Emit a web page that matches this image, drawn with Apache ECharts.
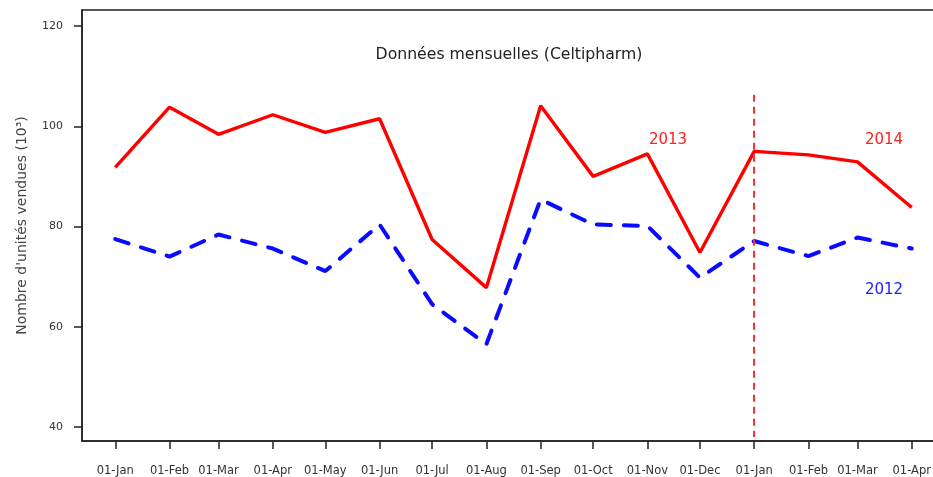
<!DOCTYPE html>
<html>
<head>
<meta charset="utf-8">
<title>Données mensuelles (Celtipharm)</title>
<script src="https://cdn.jsdelivr.net/npm/echarts@6/dist/echarts.min.js"></script>
<style>
  html, body { margin: 0; padding: 0; background: #fff; overflow: hidden; }
  /* un peu plus large que la fenêtre : le cadre est coupé à droite comme sur l'original */
  #chart { width: 942px; height: 477px; }
</style>
</head>
<body>
<div id="chart"></div>
<script>
// 1er de chaque mois, janvier 2013 -> avril 2014
const months = [
  "2013-01-01", "2013-02-01", "2013-03-01", "2013-04-01", "2013-05-01", "2013-06-01",
  "2013-07-01", "2013-08-01", "2013-09-01", "2013-10-01", "2013-11-01", "2013-12-01",
  "2014-01-01", "2014-02-01", "2014-03-01", "2014-04-01"
];
const tickLabels = [
  "01-Jan", "01-Feb", "01-Mar", "01-Apr", "01-May", "01-Jun", "01-Jul", "01-Aug",
  "01-Sep", "01-Oct", "01-Nov", "01-Dec", "01-Jan", "01-Feb", "01-Mar", "01-Apr"
];
// unités vendues (milliers)
const ventesRouge = [91.8, 103.8, 98.4, 102.3, 98.8, 101.5, 77.4, 67.8, 104.1, 90.0, 94.5, 74.8, 95.0, 94.3, 92.9, 83.8];
const ventesBleu = [77.5, 74.0, 78.4, 75.6, 71.1, 80.4, 64.5, 56.5, 85.4, 80.4, 80.1, 69.8, 77.1, 74.1, 77.8, 75.6];
const yTicks = [40, 60, 80, 100, 120];
const yearMarker = "2014-01-01";
const yearMarkerRange = [38, 106.3];

// jours depuis le 1er janvier 2013 (axe en jours pour garder l'espacement réel des mois)
const DAY = 86400000;
const toDay = s => {
  const [y, m, d] = s.split("-").map(Number);
  return Math.round((Date.UTC(y, m - 1, d) - Date.UTC(2013, 0, 1)) / DAY);
};
const monthDays = months.map(toDay);
const markerDay = toDay(yearMarker);

const font = "DejaVu Sans";
const chart = echarts.init(document.getElementById("chart"));

const option = {
  animation: false,
  backgroundColor: "#fff",
  grid: {
    left: 82,
    top: 10,
    right: 4,
    bottom: 35,
    show: true,
    borderColor: "#222",
    borderWidth: 1.5
  },
  xAxis: {
    type: "value",
    min: toDay("2012-12-13"),
    max: toDay("2014-04-16"),
    splitLine: { show: false },
    axisLine: { onZero: false, lineStyle: { color: "#222", width: 1.5 } },
    axisTick: {
      customValues: monthDays,
      length: 8,
      lineStyle: { color: "#222", width: 1.5 }
    },
    axisLabel: {
      customValues: monthDays,
      margin: 24,
      fontFamily: font,
      fontSize: 11.5,
      color: "#333",
      formatter: v => tickLabels[monthDays.indexOf(v)] || ""
    }
  },
  yAxis: {
    type: "value",
    min: 37.2,
    max: 123.2,
    name: "Nombre d'unités vendues (10³)",
    nameLocation: "middle",
    nameRotate: 90,
    nameGap: 53,
    nameTextStyle: { fontFamily: font, fontSize: 14, color: "#444" },
    splitLine: { show: false },
    axisLine: { show: true, onZero: false, lineStyle: { color: "#222", width: 1.5 } },
    axisTick: {
      show: true,
      customValues: yTicks,
      length: 8,
      lineStyle: { color: "#222", width: 1.5 }
    },
    axisLabel: {
      customValues: yTicks,
      margin: 19,
      fontFamily: font,
      fontSize: 11,
      color: "#333"
    }
  },
  series: [
    {
      name: "2013",
      type: "line",
      symbol: "none",
      lineStyle: { color: "#ff0000", width: 3.4 },
      data: monthDays.map((t, i) => [t, ventesRouge[i]]),
      markLine: {
        silent: true,
        symbol: "none",
        label: { show: false },
        lineStyle: { color: "#ff3030", width: 2, type: [7, 5] },
        data: [[
          { coord: [markerDay, yearMarkerRange[1]] },
          { coord: [markerDay, yearMarkerRange[0]] }
        ]]
      }
    },
    {
      name: "2012",
      type: "line",
      symbol: "none",
      lineStyle: { color: "#0a0aff", width: 4, type: [14, 13], cap: "round" },
      data: monthDays.map((t, i) => [t, ventesBleu[i]])
    }
  ],
  graphic: [
    { type: "text", x: 509, y: 55, style: { text: "Données mensuelles (Celtipharm)", fontFamily: font, fontSize: 15.7, fill: "#222", textAlign: "center", textVerticalAlign: "middle" } },
    { type: "text", x: 668, y: 140, style: { text: "2013", fontFamily: font, fontSize: 15, fill: "#ff2020", textAlign: "center", textVerticalAlign: "middle" } },
    { type: "text", x: 884, y: 140, style: { text: "2014", fontFamily: font, fontSize: 15, fill: "#ff2020", textAlign: "center", textVerticalAlign: "middle" } },
    { type: "text", x: 884, y: 290, style: { text: "2012", fontFamily: font, fontSize: 15, fill: "#2020ff", textAlign: "center", textVerticalAlign: "middle" } }
  ]
};

chart.setOption(option);
</script>
</body>
</html>
